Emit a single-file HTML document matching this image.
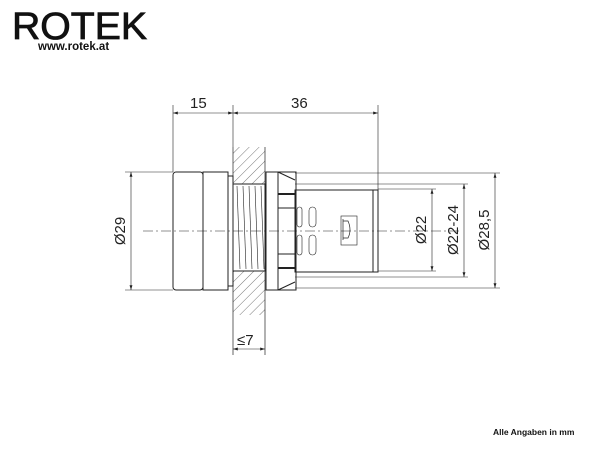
<!DOCTYPE html>
<html><head><style>body{margin:0;background:#fff}svg{display:block}</style></head><body>
<svg width="600" height="450" viewBox="0 0 600 450" xmlns="http://www.w3.org/2000/svg" font-family="Liberation Sans, sans-serif">
<defs>
<pattern id="h" width="7" height="7" patternUnits="userSpaceOnUse" patternTransform="rotate(45)"><line x1="0" y1="0" x2="0" y2="7" stroke="#555" stroke-width="0.8"/></pattern>
<marker id="a" viewBox="0 0 10 6" refX="10" refY="3" markerWidth="8" markerHeight="5" orient="auto-start-reverse"><path d="M0,0 L10,3 L0,6 z" fill="#222"/></marker>
</defs>
<text x="12" y="39" font-size="38" fill="#111" stroke="#111" stroke-width="0.8" textLength="135" lengthAdjust="spacingAndGlyphs">ROTEK</text>
<text x="38" y="50" font-size="11.5" font-weight="bold" fill="#111">www.rotek.at</text>
<g stroke="#222" fill="none" stroke-width="1">
<line x1="173" y1="105" x2="173" y2="172" stroke-width="0.6"/>
<line x1="233" y1="105" x2="233" y2="147" stroke-width="0.6"/>
<line x1="378" y1="105" x2="378" y2="190" stroke-width="0.6"/>
<line x1="173" y1="113" x2="233" y2="113" stroke-width="0.6" marker-start="url(#a)" marker-end="url(#a)"/>
<line x1="233" y1="113" x2="378" y2="113" stroke-width="0.6" marker-start="url(#a)" marker-end="url(#a)"/>
<line x1="125" y1="172" x2="173" y2="172" stroke-width="0.6"/>
<line x1="125" y1="290" x2="173" y2="290" stroke-width="0.6"/>
<line x1="131" y1="172" x2="131" y2="290" stroke-width="0.6" marker-start="url(#a)" marker-end="url(#a)"/>
<line x1="295" y1="173" x2="500" y2="173" stroke-width="0.6"/>
<line x1="295" y1="288" x2="500" y2="288" stroke-width="0.6"/>
<line x1="295" y1="184" x2="468" y2="184" stroke-width="0.6"/>
<line x1="295" y1="277" x2="468" y2="277" stroke-width="0.6"/>
<line x1="378" y1="189" x2="436" y2="189" stroke-width="0.6"/>
<line x1="378" y1="271" x2="436" y2="271" stroke-width="0.6"/>
<line x1="495" y1="173" x2="495" y2="288" stroke-width="0.6" marker-start="url(#a)" marker-end="url(#a)"/>
<line x1="464" y1="184" x2="464" y2="277" stroke-width="0.6" marker-start="url(#a)" marker-end="url(#a)"/>
<line x1="432" y1="189" x2="432" y2="271" stroke-width="0.6" marker-start="url(#a)" marker-end="url(#a)"/>
<rect x="233" y="147" width="32" height="37" fill="url(#h)" stroke="none"/>
<rect x="233" y="271" width="32" height="44" fill="url(#h)" stroke="none"/>
<line x1="233" y1="147" x2="233" y2="355" stroke-width="0.7"/>
<line x1="265" y1="147" x2="265" y2="355" stroke-width="0.7"/>
<rect x="233" y="184" width="32" height="87" fill="#fff"/>
<g stroke-width="0.6">
<line x1="237" y1="186" x2="240" y2="269"/><line x1="243" y1="186" x2="246" y2="269"/><line x1="249" y1="186" x2="252" y2="269"/><line x1="255" y1="186" x2="258" y2="269"/><line x1="261" y1="186" x2="264" y2="269"/>
</g>
<rect x="173" y="172" width="30" height="118" rx="3"/>
<rect x="203" y="172" width="25" height="118"/>
<rect x="228" y="176" width="5" height="110"/>
<rect x="266" y="172" width="30" height="118"/>
<line x1="278" y1="172" x2="278" y2="290"/>
<path d="M278,172 L295,180 M278,290 L295,282"/>
<line x1="278" y1="194" x2="295" y2="194" stroke-width="2"/>
<line x1="278" y1="208" x2="295" y2="208"/>
<line x1="278" y1="254" x2="295" y2="254"/>
<line x1="278" y1="268" x2="295" y2="268" stroke-width="2"/>
<rect x="295" y="190" width="83" height="82"/>
<line x1="373" y1="190" x2="373" y2="272"/>
<rect x="297" y="207" width="5" height="20" rx="2.5" stroke-width="0.6"/>
<rect x="297" y="235" width="5" height="20" rx="2.5" stroke-width="0.6"/>
<rect x="309" y="207" width="7" height="20" rx="3.5" stroke-width="0.6"/>
<rect x="309" y="235" width="7" height="20" rx="3.5" stroke-width="0.6"/>
<rect x="341" y="216" width="16" height="29" stroke-width="0.6"/>
<path d="M343,219 L343,240 M343,221 L348,221 Q352,230 348,238 L343,238" stroke-width="0.7"/>
<line x1="143" y1="231" x2="460" y2="231" stroke-width="0.6" stroke-dasharray="10,3,2,3"/>
<line x1="233" y1="349" x2="265" y2="349" stroke-width="0.6" marker-start="url(#a)" marker-end="url(#a)"/>
</g>
<g fill="#222" font-size="15">
<text x="190" y="108">15</text>
<text x="291" y="108">36</text>
<text x="237" y="345">≤7</text>
<text transform="translate(125,231) rotate(-90)" text-anchor="middle">Ø29</text>
<text transform="translate(426,230) rotate(-90)" text-anchor="middle">Ø22</text>
<text transform="translate(458,230) rotate(-90)" text-anchor="middle">Ø22-24</text>
<text transform="translate(489,230) rotate(-90)" text-anchor="middle">Ø28,5</text>
</g>
<text x="493" y="435" font-size="8.5" font-weight="bold" fill="#111">Alle Angaben in mm</text>
</svg>
</body></html>
